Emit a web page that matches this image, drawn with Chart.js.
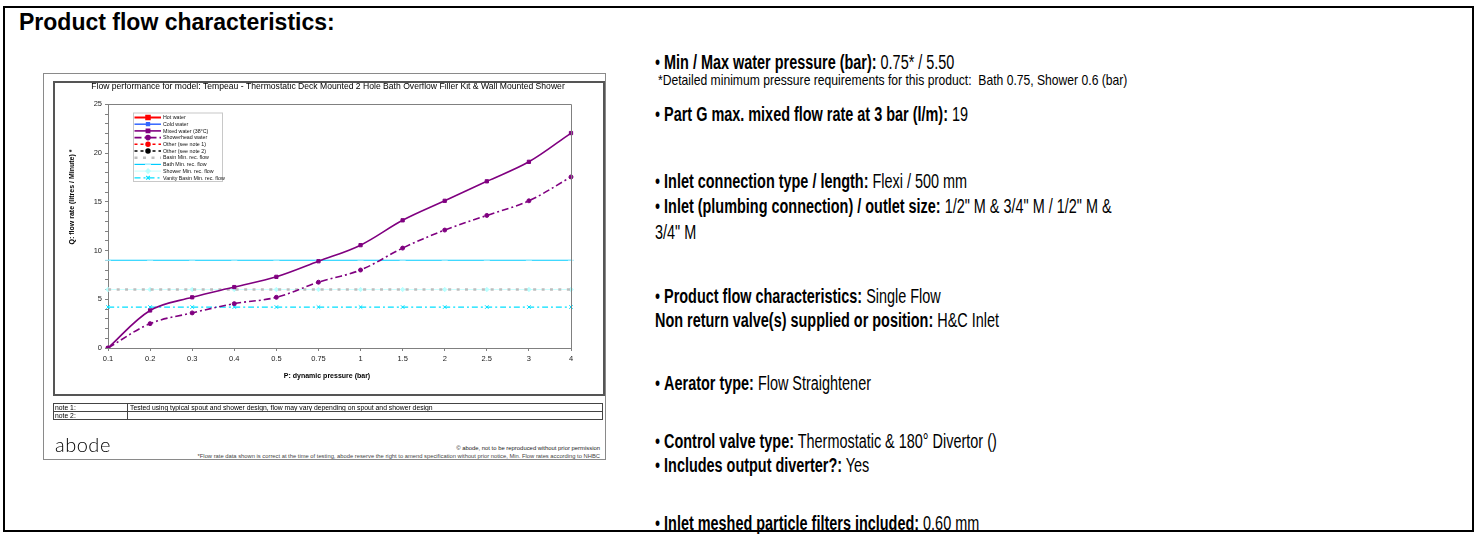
<!DOCTYPE html>
<html>
<head>
<meta charset="utf-8">
<script src="https://cdn.jsdelivr.net/npm/chart.js@4.4.1/dist/chart.umd.min.js"></script>
<style>
  html, body { margin: 0; padding: 0; background: #fff; }
  body { width: 1478px; height: 534px; position: relative; overflow: hidden; font-family: "Liberation Sans", Arial, sans-serif; color: #000; }
  #frame { position: absolute; left: 3px; top: 6px; width: 1467px; height: 522px; border: 2px solid #000; z-index: 5; pointer-events: none; }
  #heading { position: absolute; left: 19px; top: 10.5px; font-size: 23px; line-height: 23px; font-weight: bold; white-space: nowrap; }
  #specs { position: absolute; left: 655px; top: 0; width: 1000px; height: 534px; transform: scaleX(0.74); transform-origin: 0 0; }
  .ln { position: absolute; left: 0; font-size: 19.5px; line-height: 20px; white-space: nowrap; }
  #detail { position: absolute; left: 658px; top: 73px; font-size: 14.8px; line-height: 14px; white-space: nowrap; transform: scaleX(0.82); transform-origin: 0 0; }
  #imgframe { position: absolute; left: 43px; top: 73px; width: 561px; height: 385px; border: 1px solid #8a8a8a; }
  #chartbox { position: absolute; left: 53px; top: 81px; width: 548px; height: 311px; border: 2px solid #555; }
  #chart { position: absolute; left: 53px; top: 81px; }
  #notes { position: absolute; left: 53px; top: 403px; width: 548px; border: 1px solid #444; font-size: 6.8px; }
  #notes .row { height: 7px; line-height: 7px; position: relative; }
  #notes .row + .row { border-top: 1px solid #444; }
  #notes .k { position: absolute; left: 1px; top: 0; }
  #notes .v { position: absolute; left: 73px; top: 0; height: 7px; border-left: 1px solid #444; padding-left: 2px; white-space: nowrap; }
  #logo { position: absolute; left: 55px; top: 434px; font-family: Lato, "Open Sans", sans-serif; font-weight: 300; font-size: 20px; line-height: 20px; letter-spacing: 0.5px; color: #000; }
  #copy1 { position: absolute; right: 878px; top: 445px; font-size: 5.9px; line-height: 7px; white-space: nowrap; color: #222; }
  #copy2 { position: absolute; right: 878px; top: 452.5px; font-size: 5.8px; line-height: 7px; white-space: nowrap; color: #444; }
</style>
</head>
<body>
<div id="frame"></div>
<div id="heading">Product flow characteristics:</div>

<div id="imgframe"></div>
<canvas id="chart" width="550" height="313"></canvas>
<div id="chartbox"></div>
<div id="notes">
  <div class="row"><span class="k">note 1:</span><span class="v">Tested using typical spout and shower design, flow may vary depending on spout and shower design</span></div>
  <div class="row"><span class="k">note 2:</span><span class="v"></span></div>
</div>
<div id="logo">abode</div>
<div id="copy1">© abode, not to be reproduced without prior permission</div>
<div id="copy2">*Flow rate data shown is correct at the time of testing, abode reserve the right to amend specification without prior notice, Min. Flow rates according to NHBC</div>

<div id="specs">
  <div class="ln" style="top:52px">• <b>Min / Max water pressure (bar):</b> 0.75* / 5.50</div>
  <div class="ln" style="top:104px">• <b>Part G max. mixed flow rate at 3 bar (l/m):</b> 19</div>
  <div class="ln" style="top:171px">• <b>Inlet connection type / length:</b> Flexi / 500 mm</div>
  <div class="ln" style="top:196px">• <b>Inlet (plumbing connection) / outlet size:</b> 1/2" M &amp; 3/4" M / 1/2" M &amp;</div>
  <div class="ln" style="top:222px">3/4" M</div>
  <div class="ln" style="top:286px">• <b>Product flow characteristics:</b> Single Flow</div>
  <div class="ln" style="top:310px"><b>Non return valve(s) supplied or position:</b> H&amp;C Inlet</div>
  <div class="ln" style="top:373px">• <b>Aerator type:</b> Flow Straightener</div>
  <div class="ln" style="top:431px">• <b>Control valve type:</b> Thermostatic &amp; 180° Divertor ()</div>
  <div class="ln" style="top:455px">• <b>Includes output diverter?:</b> Yes</div>
  <div class="ln" style="top:513px">• <b>Inlet meshed particle filters included:</b> 0.60 mm</div>
</div>
<div id="detail">*Detailed minimum pressure requirements for this product:&nbsp; Bath 0.75, Shower 0.6 (bar)</div>

<script>
// x categories: dynamic pressure (bar)
const pressures = ['0.1', '0.2', '0.3', '0.4', '0.5', '0.75', '1', '1.5', '2', '2.5', '3', '4'];

// flow rates (litres / minute)
const hotWater = [];
const coldWater = [];
const mixedWater = [0, 3.85, 5.2, 6.25, 7.3, 8.9, 10.55, 13.1, 15.1, 17.1, 19.1, 22.05];
const showerheadWater = [0, 2.5, 3.6, 4.55, 5.2, 6.75, 8.0, 10.25, 12.1, 13.6, 15.1, 17.55];
const otherNote1 = [];
const otherNote2 = [];
const basinMin = [6, 6, 6, 6, 6, 6, 6, 6, 6, 6, 6, 6];
const bathMin = [9, 9, 9, 9, 9, 9, 9, 9, 9, 9, 9, 9];
const showerMin = [6, 6, 6, 6, 6, 6, 6, 6, 6, 6, 6, 6];
const vanityBasinMin = [4.2, 4.2, 4.2, 4.2, 4.2, 4.2, 4.2, 4.2, 4.2, 4.2, 4.2, 4.2];

const chartTitle = 'Flow performance for model: Tempeau - Thermostatic Deck Mounted 2 Hole Bath Overflow Filler Kit & Wall Mounted Shower';
const xTitle = 'P: dynamic pressure (bar)';
const yTitle = 'Q: flow rate (litres / Minute) *';

const FONT = '"Liberation Sans", Arial, sans-serif';

function series(label, data, color, width, dash, pointStyle, radius, pointColor, order) {
  return {
    label: label,
    data: data,
    borderColor: color,
    backgroundColor: color,
    borderWidth: width,
    borderDash: dash,
    pointStyle: pointStyle,
    pointRadius: radius,
    pointHoverRadius: radius,
    pointBackgroundColor: pointColor,
    pointBorderColor: pointColor,
    pointBorderWidth: 1,
    tension: 0.35,
    fill: false,
    order: order
  };
}

// draws plot frame, titles and the little excel style legend inside the plot
const sheetDecor = {
  id: 'sheetDecor',
  afterDraw(chart) {
    const ctx = chart.ctx;
    const a = chart.chartArea;
    ctx.save();
    ctx.strokeStyle = '#808080';
    ctx.lineWidth = 1;
    ctx.beginPath();
    ctx.moveTo(a.left, Math.round(a.top) + 0.5);
    ctx.lineTo(Math.round(a.right) + 0.5, Math.round(a.top) + 0.5);
    ctx.lineTo(Math.round(a.right) + 0.5, a.bottom);
    ctx.stroke();

    ctx.fillStyle = '#000';
    ctx.textAlign = 'center';
    ctx.textBaseline = 'middle';
    // chart title is centred on the whole chart box, not on the plot
    ctx.font = '8.6px ' + FONT;
    ctx.fillText(chartTitle, chart.width / 2, 5.5);

    ctx.font = 'bold 7px ' + FONT;
    ctx.fillText(xTitle, 274, 295);
    ctx.save();
    ctx.translate(19, 116);
    ctx.rotate(-Math.PI / 2);
    ctx.fillText(yTitle, 0, 0);
    ctx.restore();

    // legend
    const lx = 80, ly = 31.5, lw = 89, lh = 68.5, step = 6.7;
    ctx.fillStyle = '#fff';
    ctx.fillRect(lx, ly, lw, lh);
    ctx.strokeStyle = '#c8c8c8';
    ctx.strokeRect(lx + 0.5, ly + 0.5, lw, lh);
    ctx.textAlign = 'left';
    ctx.font = '5.3px ' + FONT;
    chart.data.datasets.forEach((ds, i) => {
      const y = ly + 5 + i * step;
      ctx.strokeStyle = ds.borderColor;
      ctx.lineWidth = ds.borderWidth;
      ctx.setLineDash(ds.borderDash || []);
      ctx.beginPath();
      ctx.moveTo(lx + 1.5, y);
      ctx.lineTo(lx + 28, y);
      ctx.stroke();
      ctx.setLineDash([]);
      if (ds.pointRadius > 0) {
        ctx.fillStyle = ds.pointBackgroundColor;
        ctx.strokeStyle = ds.pointBorderColor;
        Chart.helpers.drawPoint(ctx, { pointStyle: ds.pointStyle, radius: ds.pointRadius, rotation: 0, borderWidth: 1 }, lx + 15, y);
      }
      ctx.fillStyle = '#111';
      ctx.fillText(ds.label, lx + 30, y + 0.3);
    });
    ctx.restore();
  }
};

new Chart(document.getElementById('chart'), {
  type: 'line',
  data: {
    labels: pressures,
    datasets: [
      series('Hot water', hotWater, '#ff0000', 2, [], 'rect', 2.5, '#ff0000', 9),
      series('Cold water', coldWater, '#3366ff', 1.5, [], 'rect', 2, '#3366ff', 9),
      series('Mixed water (38°C)', mixedWater, '#800080', 1.6, [], 'rect', 2.3, '#800080', 0),
      series('Showerhead water', showerheadWater, '#800080', 1.6, [7, 3, 2, 3], 'circle', 2, '#800080', 1),
      series('Other (see note 1)', otherNote1, '#ff0000', 1.5, [3, 3], 'circle', 2, '#ff0000', 9),
      series('Other (see note 2)', otherNote2, '#000000', 1.5, [3, 3], 'circle', 2, '#000000', 9),
      series('Basin Min. rec. flow', basinMin, '#bdbdbd', 2.5, [3, 5.5], 'circle', 0, '#bdbdbd', 4),
      series('Bath Min. rec. flow', bathMin, '#00ccff', 1.2, [], 'line', 3, '#aaf0ff', 3),
      series('Shower Min. rec. flow', showerMin, '#ccffff', 1.2, [], 'rectRot', 2.2, '#b8ffff', 5),
      series('Vanity Basin Min. rec. flow', vanityBasinMin, '#00e0ff', 1.2, [6, 3, 2, 3], 'crossRot', 2.5, '#00e0ff', 2)
    ]
  },
  options: {
    responsive: false,
    animation: false,
    devicePixelRatio: 1,
    layout: { padding: { left: 0, top: 23.3, right: 32, bottom: 0 } },
    plugins: {
      legend: { display: false },
      tooltip: { enabled: false },
      title: { display: false }
    },
    scales: {
      x: {
        type: 'category',
        offset: false,
        afterFit(scale) { scale.height = 46; },
        border: { color: '#808080', width: 1 },
        grid: { drawOnChartArea: false, drawTicks: true, tickLength: 3, color: '#808080' },
        ticks: { color: '#222', font: { family: FONT, size: 7.5 }, padding: 3, maxRotation: 0, autoSkip: false }
      },
      y: {
        min: 0,
        max: 25,
        afterFit(scale) { scale.width = 55; },
        border: { color: '#808080', width: 1 },
        grid: { drawOnChartArea: false, drawTicks: true, tickLength: 3, color: '#808080' },
        ticks: {
          stepSize: 1,
          color: '#222',
          font: { family: FONT, size: 7.5 },
          padding: 3,
          autoSkip: false,
          callback: (v) => (v % 5 === 0 ? v : '')
        }
      }
    }
  },
  plugins: [sheetDecor]
});
</script>
</body>
</html>
